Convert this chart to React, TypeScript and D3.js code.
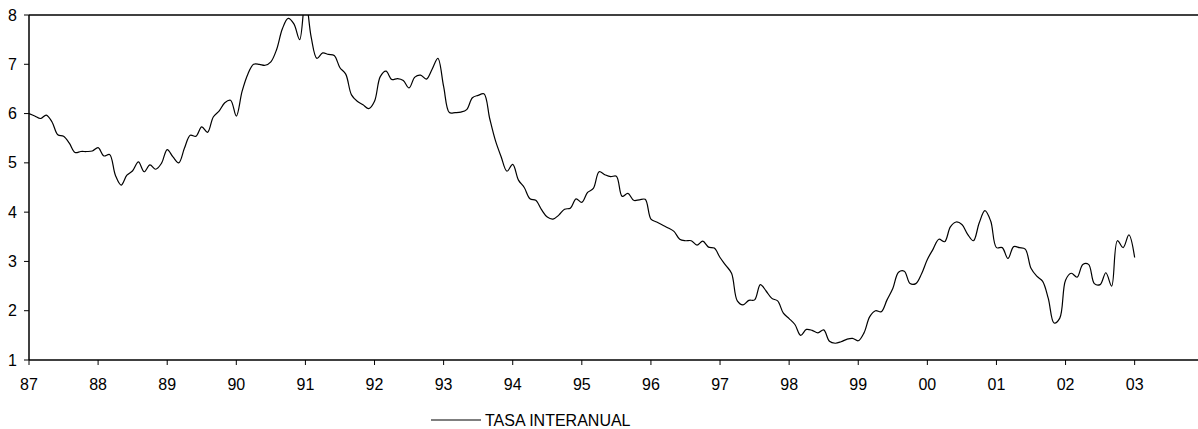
import * as d3 from "d3";

// serie mensual, ene-87 .. ene-03
const tasa87 = [6.0, 5.95, 5.9, 5.97, 5.83, 5.57, 5.54, 5.4, 5.21, 5.23, 5.23, 5.24];
const tasa88 = [5.31, 5.14, 5.17, 4.75, 4.55, 4.75, 4.84, 5.02, 4.82, 4.96, 4.87, 4.99];
const tasa89 = [5.27, 5.12, 5.0, 5.3, 5.56, 5.54, 5.73, 5.62, 5.93, 6.05, 6.22, 6.27];
const tasa90 = [5.95, 6.45, 6.8, 7.0, 7.0, 6.98, 7.05, 7.3, 7.72, 7.93, 7.82, 7.5];
const tasa91 = [8.35, 7.55, 7.12, 7.23, 7.2, 7.18, 6.93, 6.8, 6.38, 6.25, 6.18, 6.1];
const tasa92 = [6.25, 6.75, 6.86, 6.69, 6.71, 6.67, 6.52, 6.74, 6.78, 6.7, 6.9, 7.12];
const tasa93 = [6.55, 6.02, 6.02, 6.03, 6.08, 6.32, 6.37, 6.4, 5.9, 5.45, 5.12, 4.83];
const tasa94 = [4.97, 4.65, 4.5, 4.27, 4.24, 4.05, 3.9, 3.86, 3.94, 4.06, 4.08, 4.27];
const tasa95 = [4.2, 4.4, 4.48, 4.82, 4.76, 4.72, 4.73, 4.32, 4.38, 4.24, 4.25, 4.26];
const tasa96 = [3.86, 3.8, 3.74, 3.68, 3.61, 3.45, 3.42, 3.42, 3.33, 3.41, 3.29, 3.27];
const tasa97 = [3.08, 2.92, 2.76, 2.2, 2.12, 2.21, 2.22, 2.53, 2.4, 2.25, 2.2, 1.95];
const tasa98 = [1.84, 1.72, 1.5, 1.62, 1.6, 1.55, 1.61, 1.38, 1.34, 1.37, 1.42, 1.44];
const tasa99 = [1.39, 1.55, 1.88, 2.0, 1.98, 2.22, 2.45, 2.78, 2.8, 2.55, 2.55, 2.75];
const tasa00 = [3.04, 3.25, 3.45, 3.4, 3.7, 3.8, 3.75, 3.55, 3.42, 3.78, 4.03, 3.82];
const tasa01 = [3.28, 3.28, 3.06, 3.3, 3.28, 3.25, 2.86, 2.7, 2.6, 2.25, 1.75, 1.85];
const tasa02 = [2.62, 2.76, 2.68, 2.94, 2.94, 2.55, 2.53, 2.77, 2.5, 3.42, 3.28, 3.54];
const tasa03 = [3.08];

const yearLabels = ["87", "88", "89", "90", "91", "92", "93", "94", "95", "96", "97", "98", "99", "00", "01", "02", "03"];
const yTicks = [1, 2, 3, 4, 5, 6, 7, 8];
const seriesName = "TASA INTERANUAL";

const values = [
  ...tasa87, ...tasa88, ...tasa89, ...tasa90, ...tasa91, ...tasa92, ...tasa93, ...tasa94,
  ...tasa95, ...tasa96, ...tasa97, ...tasa98, ...tasa99, ...tasa00, ...tasa01, ...tasa02, ...tasa03,
];

const W = 1198;
const H = 429;
const left = 29;
const top = 15;
const bottom = 360;
const font = "Arial, 'Liberation Sans', sans-serif";

export default function App() {
  // eje de categorías: 17 años x 12 meses
  const x = d3.scaleLinear().domain([0, yearLabels.length * 12 - 1]).range([left, W]);
  const y = d3.scaleLinear().domain([1, 8]).range([bottom, top]);

  const line = d3
    .line<number>()
    .x((_, i) => x(i))
    .y((d) => y(d))
    .curve(d3.curveCatmullRom.alpha(0.5));

  return (
    <svg
      width={W}
      height={H}
      style={{ position: "absolute", left: 0, top: 0, background: "#fff" }}
      fontFamily={font}
    >
      <defs>
        <clipPath id="plot">
          <rect x={left} y={top} width={W - left} height={bottom - top} />
        </clipPath>
      </defs>

      {/* línea superior */}
      <line x1={left} x2={W} y1={y(8)} y2={y(8)} stroke="#000" strokeWidth={1.5} />

      {/* eje y */}
      <line x1={left} x2={left} y1={top} y2={bottom} stroke="#000" strokeWidth={1.5} />
      {yTicks.map((t) => (
        <g key={t}>
          <line x1={left - 5} x2={left} y1={y(t)} y2={y(t)} stroke="#000" strokeWidth={1} />
          <text x={17} y={y(t)} dy="0.35em" textAnchor="end" fontSize={16} fill="#000">
            {t}
          </text>
        </g>
      ))}

      {/* eje x */}
      <line x1={left} x2={W} y1={bottom} y2={bottom} stroke="#000" strokeWidth={1.5} />
      {yearLabels.map((lab, i) => (
        <g key={lab}>
          <line x1={x(i * 12)} x2={x(i * 12)} y1={bottom} y2={bottom + 5} stroke="#000" strokeWidth={1} />
          <text x={x(i * 12)} y={390} textAnchor="middle" fontSize={16} fill="#000">
            {lab}
          </text>
        </g>
      ))}

      <path d={line(values) ?? ""} fill="none" stroke="#000" strokeWidth={1.2} clipPath="url(#plot)" />

      {/* leyenda */}
      <line x1={431} x2={481} y1={420} y2={420} stroke="#000" strokeWidth={1.2} />
      <text x={485} y={420} dy="0.35em" fontSize={16} fill="#000">
        {seriesName}
      </text>
    </svg>
  );
}
